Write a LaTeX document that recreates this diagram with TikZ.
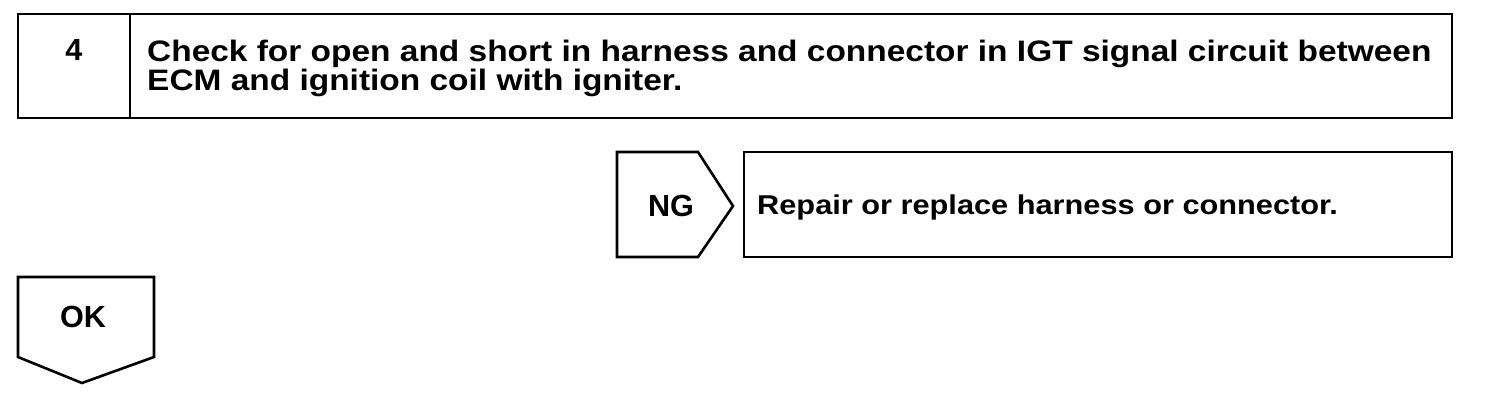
\documentclass[tikz,border=0pt]{standalone}
\usepackage{fontspec}
\setmainfont{Liberation Sans}
\newfontfamily\widesans[FakeStretch=1.13]{Liberation Sans}
\usepackage{tikz}

\begin{document}
\begin{tikzpicture}[x=1pt,y=1pt,yscale=-1,
    frame/.style={line width=2.6, line join=miter},
    label/.style={inner sep=0pt, font=\fontsize{30.6}{29}\selectfont\bfseries}]
    \useasboundingbox (0,0) rectangle (1504,400);

    %Shape: Rectangle [id:step4]
    \draw [frame] (18,14) rectangle (1452,118);
    %Straight Lines [id:step4div]
    \draw [frame] (130,14) -- (130,118);
    %Shape: Pentagon [id:ng]
    \draw [frame] (617,152) -- (698,152) -- (733,206) -- (698,257) -- (617,257) -- cycle;
    %Shape: Rectangle [id:repair]
    \draw [frame] (744,152) rectangle (1452,257);
    %Shape: Pentagon [id:ok]
    \draw [frame] (18,277) -- (154,277) -- (154,357) -- (82,383) -- (18,357) -- cycle;

    % Text Node
    \node (num) [label] at (74,50) {4};
    % Text Node
    \node (check) [label, anchor=north west, align=left, font=\widesans\fontsize{29.6}{29}\selectfont\bfseries] at (147,39.5) {Check for open and short in harness and connector in IGT signal circuit between\\ECM and ignition coil with igniter.};
    % Text Node
    \node (ng) [label] at (671,206) {NG};
    % Text Node
    \node (repair) [label, anchor=base west, font=\widesans\fontsize{27.2}{29}\selectfont\bfseries] at (757,214) {Repair or replace harness or connector.};
    % Text Node
    \node (ok) [label] at (83,317) {OK};

\end{tikzpicture}
\end{document}
